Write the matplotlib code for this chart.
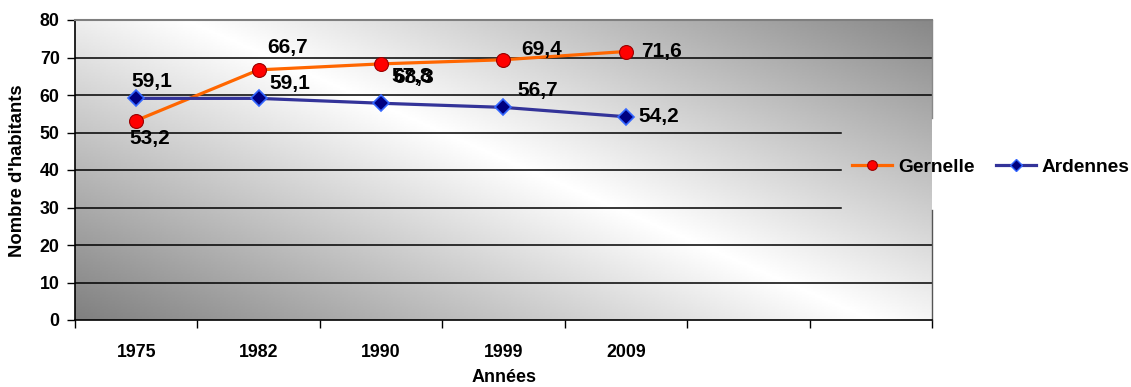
import numpy as np
import matplotlib
matplotlib.use("Agg")
import matplotlib.pyplot as plt
from matplotlib.lines import Line2D

plt.rcParams['font.family'] = ['Liberation Sans', 'DejaVu Sans']
plt.rcParams['font.weight'] = 'bold'

# data
annees = ['1975', '1982', '1990', '1999', '2009']
gernelle = [53.2, 66.7, 68.3, 69.4, 71.6]
ardennes = [59.1, 59.1, 57.8, 56.7, 54.2]
n_cat = 7  # two empty categories on the right

# label offsets (pixels, y up) for the data labels
off_g = [(14, -18), (29, 22), (33, -14), (38, 10), (36, 0)]
off_a = [(16, 17), (31, 15), (31, 27), (34, 17), (33, 0)]

fig = plt.figure(figsize=(11.31, 3.87), dpi=100)
ax = fig.add_axes([75 / 1131, 67 / 387, 857 / 1131, 300 / 387])

# diagonal gray gradient background
ny, nx = 200, 400
fx = np.linspace(0, 1, nx)
fy = np.linspace(0, 1, ny)
FX, FY = np.meshgrid(fx, fy)
t = FX + 0.8 * FY
dist = np.abs(t - 0.93)
val = 1 - 0.5 * dist / 0.93
ax.imshow(val, cmap='gray', vmin=0, vmax=1, origin='lower', extent=[0, 1, 0, 1],
          transform=ax.transAxes, aspect='auto', zorder=0, interpolation='bilinear')

ax.set_xlim(0, n_cat)
ax.set_ylim(0, 80)

# gridlines (those behind the legend are cut short)
for v in range(10, 80, 10):
    xmax = 0.894 if v in (30, 40, 50) else 1.0
    ax.axhline(v, xmin=0, xmax=xmax, color='black', lw=1.1, zorder=1)

xs = np.arange(len(annees)) + 0.5
ax.plot(xs, gernelle, color='#FF6600', lw=2.3, marker='o', markersize=10,
        markerfacecolor='#FF0000', markeredgecolor='#990000', markeredgewidth=0.8, zorder=3)
ax.plot(xs, ardennes, color='#333399', lw=2.3, marker='D', markersize=8,
        markerfacecolor='#000080', markeredgecolor='#3366FF', markeredgewidth=1.2, zorder=3)

for x, v, o in zip(xs, gernelle, off_g):
    ax.annotate(f"{v:.1f}".replace('.', ','), (x, v), xytext=o, textcoords='offset pixels',
                ha='center', va='center', fontsize=15, fontweight='bold', zorder=4)
for x, v, o in zip(xs, ardennes, off_a):
    ax.annotate(f"{v:.1f}".replace('.', ','), (x, v), xytext=o, textcoords='offset pixels',
                ha='center', va='center', fontsize=15, fontweight='bold', zorder=4)

# axes and ticks
ax.set_xticks(range(n_cat + 1))
ax.set_xticklabels([])
ax.set_xticks(xs, minor=True)
ax.set_xticklabels(annees, minor=True)
ax.tick_params(axis='x', which='major', length=6, width=1, direction='out')
ax.tick_params(axis='x', which='minor', length=0, pad=17, labelsize=12.8)
ax.set_yticks(range(0, 90, 10))
ax.tick_params(axis='y', length=6, width=1, pad=5, labelsize=12.8)

ax.spines['left'].set_color('black')
ax.spines['bottom'].set_color('black')
ax.spines['left'].set_linewidth(1.2)
ax.spines['bottom'].set_linewidth(1.2)
ax.spines['top'].set_color('#7f7f7f')
ax.spines['top'].set_linewidth(1.5)
ax.spines['right'].set_visible(False)
# right border interrupted by the legend
ax.plot([1, 1], [0, 110 / 300], transform=ax.transAxes, color='#555555', lw=1, clip_on=False, zorder=2)
ax.plot([1, 1], [202 / 300, 1], transform=ax.transAxes, color='#888888', lw=1, clip_on=False, zorder=2)

fig.text(18 / 1131, 1 - 171 / 387, "Nombre d'habitants", rotation=90, ha='center', va='center',
         fontsize=13.3, fontweight='bold')
fig.text(504 / 1131, 1 - 378 / 387, "Années", ha='center', va='center',
         fontsize=13, fontweight='bold')

handles = [
    Line2D([], [], color='#FF6600', lw=2.3, marker='o', markersize=7,
           markerfacecolor='#FF0000', markeredgecolor='#990000', markeredgewidth=0.8),
    Line2D([], [], color='#333399', lw=2.3, marker='D', markersize=6,
           markerfacecolor='#000080', markeredgecolor='#3366FF', markeredgewidth=1.0),
]
fig.legend(handles, ['Gernelle', 'Ardennes'], loc='center left', ncol=2, frameon=False,
           bbox_to_anchor=(852 / 1131, 1 - 167 / 387), fontsize=13.8,
           handlelength=2.1, handletextpad=0.3, columnspacing=1.1, borderpad=0, borderaxespad=0)

fig.savefig('out.png', dpi=100)
